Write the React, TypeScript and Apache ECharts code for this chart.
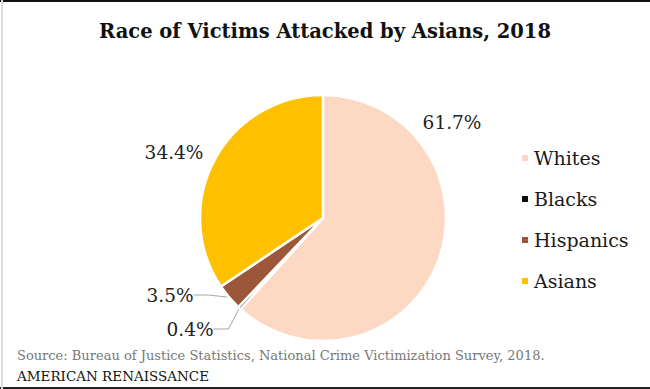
import React, { useEffect, useRef } from "react";
import * as echarts from "echarts";

const categories = ["Whites", "Blacks", "Hispanics", "Asians"];
const shares = [61.7, 0.4, 3.5, 34.4];
const colors = ["#FDD9C3", "#0D0D0D", "#9C573A", "#FFC000"];
const titleText = "Race of Victims Attacked by Asians, 2018";
const sourceText = "Source: Bureau of Justice Statistics, National Crime Victimization Survey, 2018.";
const brandText = "AMERICAN RENAISSANCE";

const SERIF = "'DejaVu Serif', Georgia, serif";

// label anchor positions (text only)
const labelPos = [
  [452, 122],
  [190, 329],
  [170, 295],
  [174, 152],
];

export default function App() {
  const ref = useRef<HTMLDivElement>(null);
  useEffect(() => {
    if (!ref.current) return;
    const chart = echarts.init(ref.current, null, { renderer: "svg" });
    chart.setOption({
      animation: false,
      backgroundColor: "#ffffff",
      title: {
        text: titleText,
        left: "center",
        top: 16,
        textStyle: { fontFamily: SERIF, fontSize: 19.5, fontWeight: "bold", color: "#111" },
      },
      legend: {
        orient: "vertical",
        left: 515,
        top: 143,
        icon: "rect",
        itemWidth: 8,
        itemHeight: 8,
        itemGap: 21,
        data: categories,
        textStyle: { fontFamily: SERIF, fontSize: 19, color: "#1a1a1a", lineHeight: 20 },
      },
      graphic: [
        { type: "rect", shape: { x: 0, y: 0, width: 650, height: 2 }, style: { fill: "#111" }, silent: true },
        { type: "rect", shape: { x: 0, y: 387, width: 650, height: 2 }, style: { fill: "#222" }, silent: true },
        { type: "rect", shape: { x: 1, y: 0, width: 2, height: 389 }, style: { fill: "#dcdcdc" }, silent: true },
        {
          type: "text",
          left: 17,
          top: 349,
          style: { text: sourceText, fontFamily: SERIF, fontSize: 13, fill: "#777" },
        },
        {
          type: "text",
          left: 17,
          top: 369,
          style: { text: brandText, fontFamily: SERIF, fontSize: 13.5, fill: "#111" },
        },
      ],
      series: [
        {
          type: "pie",
          center: [323, 218],
          radius: 123,
          startAngle: 90,
          clockwise: true,
          avoidLabelOverlap: false,
          itemStyle: { borderColor: "#ffffff", borderWidth: 2.5 },
          label: {
            show: true,
            position: "outside",
            formatter: (p: any) => p.value.toFixed(1) + "%",
            fontFamily: SERIF,
            fontSize: 18.5,
            color: "#222",
          },
          labelLine: { show: true, lineStyle: { color: "#a6a6a6", width: 1 }, length: 10, length2: 15 },
          labelLayout: (p: any) => ({
            x: labelPos[p.dataIndex][0],
            y: labelPos[p.dataIndex][1],
            align: "center",
            verticalAlign: "middle",
          }),
          emphasis: { disabled: true },
          data: categories.map((name, i) => ({
            name,
            value: shares[i],
            itemStyle: { color: colors[i] },
            labelLine: { show: i === 1 || i === 2 },
          })),
        },
      ],
    });
    return () => chart.dispose();
  }, []);
  return <div ref={ref} style={{ position: "fixed", left: 0, top: 0, width: 650, height: 389 }} />;
}
